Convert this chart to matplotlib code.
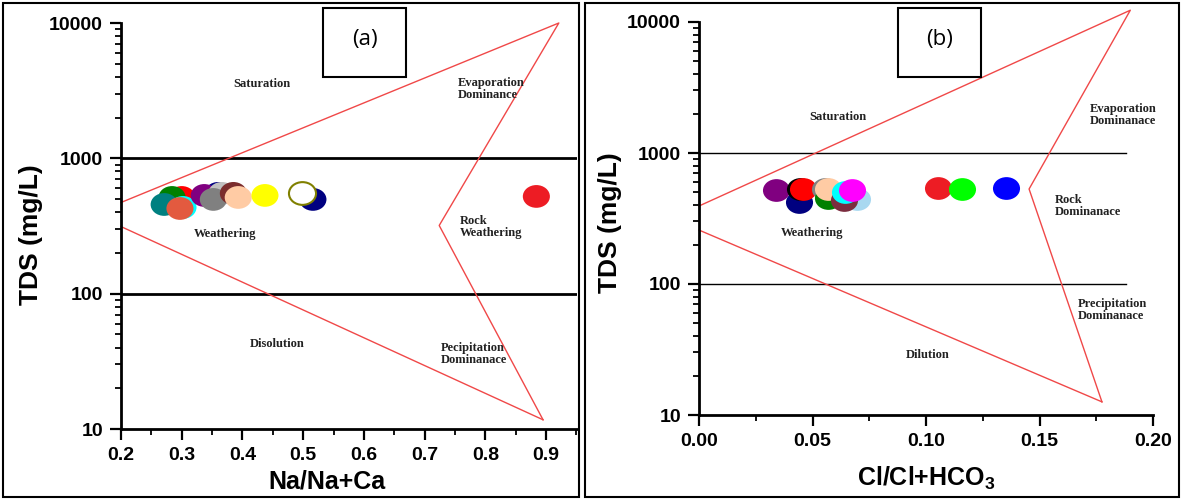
import matplotlib
matplotlib.use('Agg')
import matplotlib.pyplot as plt
from matplotlib.patches import Rectangle
from matplotlib.path import Path
from matplotlib.transforms import Affine2D
import numpy as np

plt.rcParams['font.family'] = ['Liberation Sans', 'DejaVu Sans']
plt.rcParams['mathtext.fontset'] = 'custom'
plt.rcParams['mathtext.rm'] = 'Liberation Sans'
plt.rcParams['mathtext.bf'] = 'Liberation Sans:bold'

# Panel (a): Na/(Na+Ca) vs TDS
na_ratio = [0.300, 0.284, 0.271, 0.302, 0.297, 0.360, 0.337, 0.366, 0.352,
            0.385, 0.393, 0.437, 0.516, 0.498, 0.884]
tds_a = [514, 514, 456, 434, 426, 551, 532, 551, 497, 551, 514, 532, 497, 551, 523]
colors_a = ['#FF0000', '#008000', '#008080', '#00FFFF', '#E35A3F', '#000080', '#800080',
            '#C0C0C0', '#808080', '#7B2D2D', '#FFCBA4', '#FFFF00', '#000080', '#FFFFFF',
            '#ED1C24']
edges_a = ['none'] * 13 + ['#808000', 'none']

# Panel (b): Cl/(Cl+HCO3) vs TDS
cl_ratio = [0.0339, 0.0440, 0.0445, 0.0458, 0.0555, 0.0568, 0.0568, 0.0696, 0.0639,
            0.0643, 0.0674, 0.1053, 0.1159, 0.1352]
tds_b = [522, 423, 531, 531, 531, 453, 531, 446, 438, 504, 522, 541, 531, 541]
colors_b = ['#800080', '#000080', '#000000', '#FF0000', '#808080', '#008000', '#FFCBA4',
            '#A8D8F0', '#7B2D3F', '#00FFFF', '#FF00FF', '#ED1C24', '#00FF00', '#0000FF']

# Gibbs boundary envelopes
gibbs_a_upper_x = [0.2, 0.921, 0.724, 0.895]
gibbs_a_upper_y = [472, 10000, 319, 11.7]
gibbs_a_lower_x = [0.2, 0.895]
gibbs_a_lower_y = [313, 11.7]
gibbs_b_upper_x = [0.0, 0.190, 0.1454, 0.1775]
gibbs_b_upper_y = [394, 12300, 531, 12.6]
gibbs_b_lower_x = [0.0, 0.1775]
gibbs_b_lower_y = [258, 12.6]

red = '#F04848'
oval = Path.unit_circle().transformed(Affine2D().scale(1.0, 0.84))

fig = plt.figure(figsize=(11.81, 5), dpi=100)
ax1 = fig.add_axes([0.1025, 0.142, 0.3861, 0.812])
ax2 = fig.add_axes([0.5919, 0.17, 0.3844, 0.786])

zone_font = dict(family=['Liberation Serif', 'DejaVu Serif'], fontweight='bold', fontsize=9,
                 color='#222222', linespacing=1.0)

def style_axis(ax):
    ax.set_yscale('log')
    ax.set_ylim(10, 10000)
    for s in ['top', 'right']:
        ax.spines[s].set_visible(False)
    for s in ['left', 'bottom']:
        ax.spines[s].set_linewidth(2)
    ax.tick_params(which='major', direction='out', length=8, width=1.6, labelsize=14, pad=5)
    ax.tick_params(which='minor', direction='out', length=4.5, width=1.3)
    ax.yaxis.set_major_formatter(matplotlib.ticker.FuncFormatter(lambda v, p: '%d' % v))
    ax.yaxis.set_minor_formatter(matplotlib.ticker.NullFormatter())
    for lab in ax.get_xticklabels() + ax.get_yticklabels():
        lab.set_fontweight('bold')
    ax.set_ylabel('TDS (mg/L)', fontsize=19, fontweight='bold')

# ---- panel (a)
style_axis(ax1)
ax1.set_xlim(0.2, 0.951)
ax1.set_xticks(np.arange(0.2, 0.95, 0.1))
ax1.set_xticks(np.arange(0.25, 0.96, 0.1), minor=True)
ax1.set_xticklabels(['%.1f' % v for v in np.arange(0.2, 0.95, 0.1)], fontweight='bold')
ax1.axhline(1000, color='black', lw=2)
ax1.axhline(100, color='black', lw=2)
ax1.plot(gibbs_a_upper_x, gibbs_a_upper_y, color=red, lw=1, clip_on=False)
ax1.plot(gibbs_a_lower_x, gibbs_a_lower_y, color=red, lw=1, clip_on=False)
for x, y, c, e in zip(na_ratio, tds_a, colors_a, edges_a):
    ax1.scatter(x, y, s=380, marker=oval, color=c, edgecolors=e, linewidths=1.5 if e != 'none' else 0,
                zorder=3)
ax1.set_xlabel('Na/Na+Ca', fontsize=18, fontweight='bold')
ax1.xaxis.set_label_coords(0.452, -0.10)
ax1.yaxis.set_label_coords(-0.171, 0.478)
ax1.text(0.432, 3530, 'Saturation', ha='center', va='center', **zone_font)
ax1.text(0.754, 3245, 'Evaporation\nDominance', ha='left', va='center', **zone_font)
ax1.text(0.371, 278, 'Weathering', ha='center', va='center', **zone_font)
ax1.text(0.758, 313, 'Rock\nWeathering', ha='left', va='center', **zone_font)
ax1.text(0.457, 42.7, 'Disolution', ha='center', va='center', **zone_font)
ax1.text(0.727, 36, 'Pecipitation\nDominanace', ha='left', va='center', **zone_font)

# ---- panel (b)
style_axis(ax2)
ax2.set_xlim(0, 0.2)
ax2.set_xticks(np.arange(0, 0.201, 0.05))
ax2.set_xticks(np.arange(0.025, 0.2, 0.05), minor=True)
ax2.set_xticklabels(['%.2f' % v for v in np.arange(0, 0.201, 0.05)], fontweight='bold')
ax2.plot([0, 0.188], [1000, 1000], color='black', lw=1)
ax2.plot([0, 0.188], [100, 100], color='black', lw=1)
ax2.plot(gibbs_b_upper_x, gibbs_b_upper_y, color=red, lw=1, clip_on=False)
ax2.plot(gibbs_b_lower_x, gibbs_b_lower_y, color=red, lw=1, clip_on=False)
for x, y, c in zip(cl_ratio, tds_b, colors_b):
    ax2.scatter(x, y, s=380, marker=oval, color=c, linewidths=0, zorder=3)
ax2.set_xlabel(r'Cl/Cl+HCO$_{\mathbf{3}}$', fontsize=18, fontweight='bold')
ax2.xaxis.set_label_coords(0.5, -0.127)
ax2.yaxis.set_label_coords(-0.17, 0.49)
ax2.text(0.0612, 1884, 'Saturation', ha='center', va='center', **zone_font)
ax2.text(0.1722, 1950, 'Evaporation\nDominanace', ha='left', va='center', **zone_font)
ax2.text(0.0498, 245, 'Weathering', ha='center', va='center', **zone_font)
ax2.text(0.1568, 393, 'Rock\nDominanace', ha='left', va='center', **zone_font)
ax2.text(0.167, 63, 'Precipitation\nDominanace', ha='left', va='center', **zone_font)
ax2.text(0.1009, 28.7, 'Dilution', ha='center', va='center', **zone_font)

# panel frames and (a)/(b) boxes
fig.patches.append(Rectangle((3 / 1181, 3 / 500), 576 / 1181, 494 / 500, transform=fig.transFigure,
                             fill=False, edgecolor='black', lw=1.5))
fig.patches.append(Rectangle((585 / 1181, 3 / 500), 594 / 1181, 494 / 500, transform=fig.transFigure,
                             fill=False, edgecolor='black', lw=1.5))
for x0, lab in [(323, '(a)'), (898, '(b)')]:
    fig.patches.append(Rectangle((x0 / 1181, 1 - 77 / 500), 83 / 1181, 69 / 500,
                                 transform=fig.transFigure, fill=True, facecolor='white',
                                 edgecolor='black', lw=1.5, zorder=5))
    fig.text((x0 + 41.5) / 1181, 1 - 40 / 500, lab, ha='center', va='center', fontsize=16,
             family=['Open Sans', 'DejaVu Sans'], zorder=6)

fig.savefig('out.png', dpi=100)
